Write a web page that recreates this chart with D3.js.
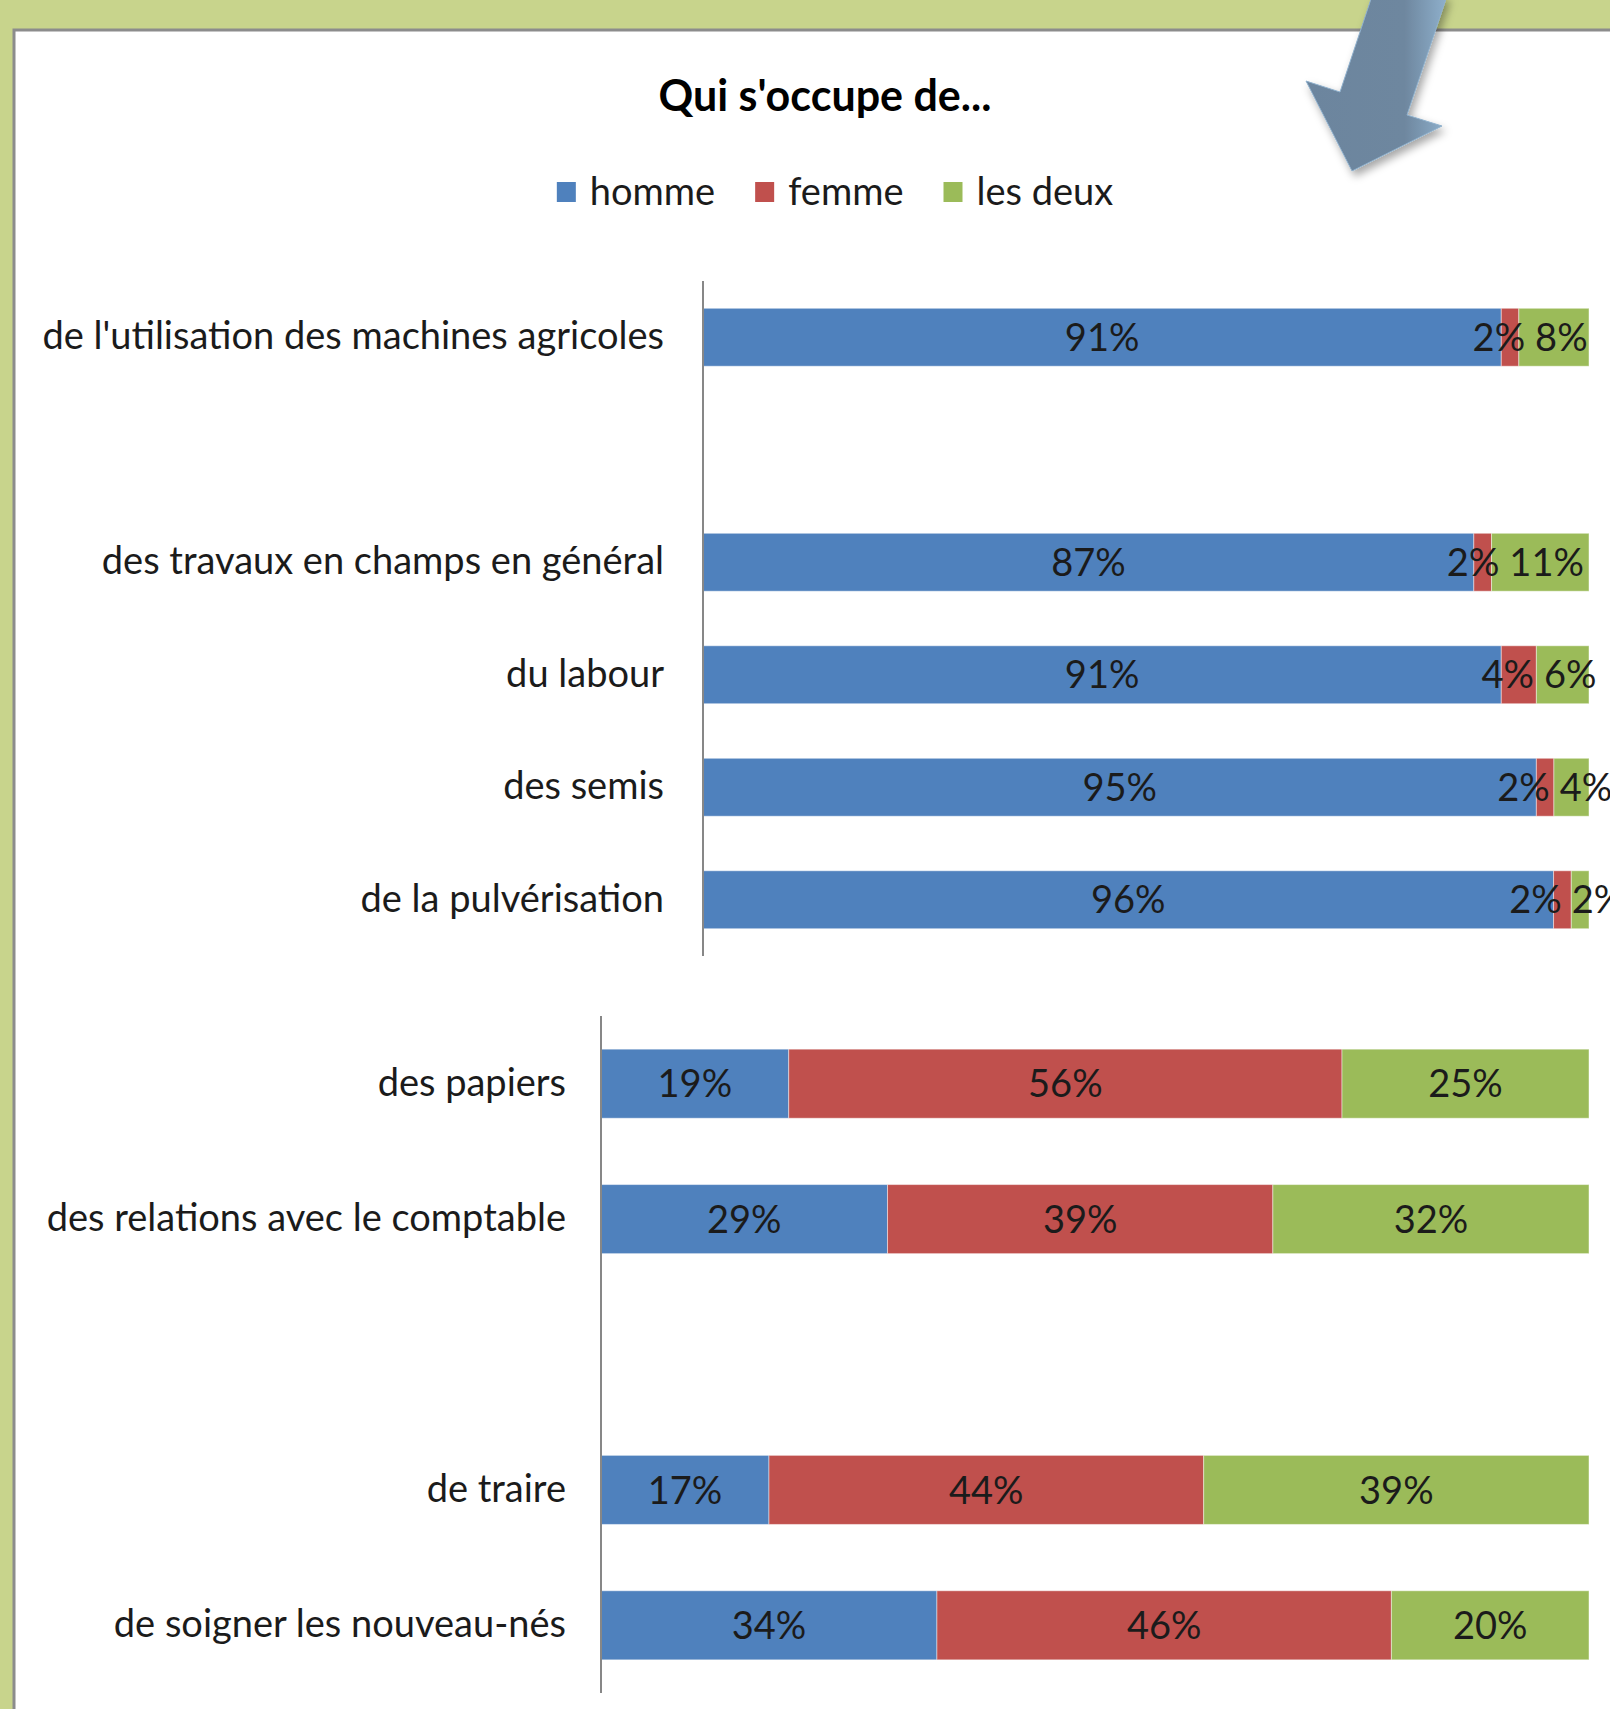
<!DOCTYPE html>
<html>
<head>
<meta charset="utf-8">
<script src="https://cdn.jsdelivr.net/npm/d3@7/dist/d3.min.js"></script>
<style>
  body { margin: 0; background: #c8d48c; }
  text { font-family: Lato, "Open Sans", sans-serif; fill: #1b1b1b; }
</style>
</head>
<body>
<div id="chart"></div>
<script>
// series of the legend
var series = ["homme", "femme", "les deux"];
var colors = ["#4f81bd", "#c0504d", "#9bbb59"];

// first block: field work ("" = empty row in the chart)
var tasksTop = ["de l'utilisation des machines agricoles", "", "des travaux en champs en général",
    "du labour", "des semis", "de la pulvérisation"];
var hommeTop = [91, null, 87, 91, 95, 96];
var femmeTop = [2, null, 2, 4, 2, 2];
var deuxTop = [8, null, 11, 6, 4, 2];

// second block: office and animals
var tasksBottom = ["des papiers", "des relations avec le comptable", "", "de traire", "de soigner les nouveau-nés"];
var hommeBottom = [19, 29, null, 17, 34];
var femmeBottom = [56, 39, null, 44, 46];
var deuxBottom = [25, 32, null, 39, 20];

var title = "Qui s'occupe de...";

var W = 1610, H = 1709;
var fontSize = 38;

var svg = d3.select("#chart")
    .append("svg")
    .attr("width", W)
    .attr("height", H);

var defs = svg.append("defs");
var shadow = defs.append("filter").attr("id", "shadow")
    .attr("x", "-20%").attr("y", "-20%").attr("width", "150%").attr("height", "150%");
shadow.append("feDropShadow").attr("dx", 3).attr("dy", 5).attr("stdDeviation", 4)
    .attr("flood-color", "#000").attr("flood-opacity", 0.35);
var grad = defs.append("linearGradient").attr("id", "arrowGrad")
    .attr("x1", "0%").attr("y1", "0%").attr("x2", "100%").attr("y2", "0%");
grad.append("stop").attr("offset", "0%").attr("stop-color", "#6c859e");
grad.append("stop").attr("offset", "70%").attr("stop-color", "#6e879f");
grad.append("stop").attr("offset", "100%").attr("stop-color", "#8fb0cc");

// green page + white sheet
svg.append("rect").attr("width", W).attr("height", H).attr("fill", "#c8d48c");
svg.append("rect")
    .attr("x", 14).attr("y", 30)
    .attr("width", W + 20).attr("height", H + 20)
    .attr("fill", "#ffffff")
    .attr("stroke", "#8c8c8c")
    .attr("stroke-width", 3);

// title
svg.append("text")
    .attr("x", 825)
    .attr("y", 96)
    .attr("dy", "0.35em")
    .attr("text-anchor", "middle")
    .style("font-size", "43px")
    .style("font-weight", "bold")
    .style("fill", "#000")
    .text(title);

// legend
var legend = svg.append("g");
var lx = 0;
series.forEach(function (s, i) {
    var item = legend.append("g").attr("transform", "translate(" + lx + ",0)");
    item.append("rect")
        .attr("x", 0).attr("y", -10)
        .attr("width", 19).attr("height", 20)
        .attr("fill", colors[i]);
    var t = item.append("text")
        .attr("x", 33)
        .attr("dy", "0.35em")
        .style("font-size", fontSize + "px")
        .text(s);
    lx += 33 + t.node().getComputedTextLength() + 40;
});
lx -= 40;
legend.attr("transform", "translate(" + (835 - lx / 2) + ",192)");

function makeRows(tasks, h, f, d) {
    var rows = [];
    tasks.forEach(function (t, i) {
        if (h[i] == null) return;
        rows.push({ task: t, "homme": h[i], "femme": f[i], "les deux": d[i] });
    });
    return rows;
}

function drawBlock(cfg) {
    var g = svg.append("g");
    var x = d3.scaleLinear().domain([0, 1]).range([cfg.x0, cfg.x1]);
    var y = d3.scaleBand().domain(cfg.tasks).range([cfg.y0, cfg.y1]).paddingInner(cfg.pad).paddingOuter(cfg.pad / 2);

    // 100% stacked
    var stacked = d3.stack().keys(series).offset(d3.stackOffsetExpand)(cfg.rows);

    stacked.forEach(function (layer, k) {
        g.append("g")
            .attr("fill", colors[k])
            .selectAll("rect")
            .data(layer)
            .enter()
            .append("rect")
            .attr("x", function (d) { return x(d[0]); })
            .attr("y", function (d) { return y(d.data.task); })
            .attr("width", function (d) { return x(d[1]) - x(d[0]); })
            .attr("height", y.bandwidth())
            .attr("stroke", "rgba(255,255,255,0.45)")
            .attr("stroke-width", 1);
    });

    // category labels
    var yAxis = d3.axisLeft(y).tickSize(0).tickPadding(cfg.labelPad);
    var ax = g.append("g")
        .attr("transform", "translate(" + cfg.x0 + ",0)")
        .call(yAxis);
    ax.select(".domain").remove();
    ax.selectAll("text")
        .style("font-size", fontSize + "px")
        .style("font-family", "Lato, sans-serif")
        .attr("fill", "#1b1b1b");

    // axis line
    g.append("line")
        .attr("x1", cfg.x0).attr("x2", cfg.x0)
        .attr("y1", cfg.y0).attr("y2", cfg.y1)
        .attr("stroke", "#878787")
        .attr("stroke-width", 2);

    // value labels, centered, pushed apart when they collide
    cfg.rows.forEach(function (row, r) {
        var labels = stacked.map(function (layer, k) {
            var d = layer[r];
            var t = g.append("text")
                .attr("y", y(row.task) + y.bandwidth() / 2)
                .attr("dy", "0.36em")
                .attr("text-anchor", "middle")
                .style("font-size", fontSize + "px")
                .text(row[series[k]] + "%");
            return { node: t, cx: (x(d[0]) + x(d[1])) / 2, w: t.node().getComputedTextLength() };
        });
        for (var it = 0; it < 20; it++) {
            for (var k = 0; k < labels.length - 1; k++) {
                var a = labels[k], b = labels[k + 1];
                var need = (a.w + b.w) / 2 + 10;
                var have = b.cx - a.cx;
                if (have < need) {
                    // push the left label more than the right one
                    a.cx -= (need - have) * 0.6;
                    b.cx += (need - have) * 0.4;
                }
            }
        }
        labels.forEach(function (l) { l.node.attr("x", l.cx); });
    });
}

drawBlock({
    tasks: tasksTop,
    rows: makeRows(tasksTop, hommeTop, femmeTop, deuxTop),
    x0: 703, x1: 1589, y0: 281, y1: 956, pad: 0.485, labelPad: 39
});

drawBlock({
    tasks: tasksBottom,
    rows: makeRows(tasksBottom, hommeBottom, femmeBottom, deuxBottom),
    x0: 601, x1: 1589, y0: 1016, y1: 1693, pad: 0.49, labelPad: 35
});

// arrow pointing at the chart
svg.append("path")
    .attr("d", "M1372,-4 L1447,-4 L1407,115 L1442,126 L1352,171 L1306,81 L1340,92 Z")
    .attr("fill", "url(#arrowGrad)")
    .attr("stroke", "#8fb0cc")
    .attr("stroke-width", 1)
    .attr("filter", "url(#shadow)");
</script>
</body>
</html>
